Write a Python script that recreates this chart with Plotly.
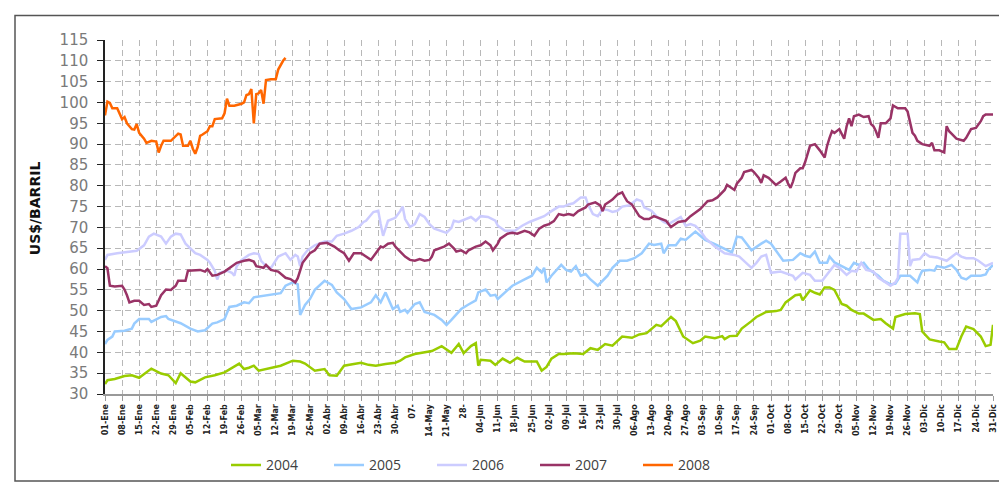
import plotly.graph_objects as go

# ---- data (day of year, US$/barril) ----
week_labels = ["01-Ene","08-Ene","15-Ene","22-Ene","29-Ene","05-Feb","12-Feb","19-Feb","26-Feb",
               "05-Mar","12-Mar","19-Mar","26-Mar","02-Abr","09-Abr","16-Abr","23-Abr","30-Abr",
               "07-","14-May","21-May","28-","04-Jun","11-Jun","18-Jun","25-Jun","02-Jul","09-Jul",
               "16-Jul","23-Jul","30-Jul","06-Ago","13-Ago","20-Ago","27-Ago","03-Sep","10-Sep",
               "17-Sep","24-Sep","01-Oct","08-Oct","15-Oct","22-Oct","29-Oct","05-Nov","12-Nov",
               "19-Nov","26-Nov","03-Dic","10-Dic","17-Dic","24-Dic","31-Dic"]
week_days = [7 * i for i in range(len(week_labels))]

days_2004 = [0,1,4,8,11,14,19,23,26,29,31,35,37,41,45,49,55,57,59,61,63,66,72,77,80,82,86,90,92,95,98,
             102,105,108,111,115,119,121,123,127,131,134,138,142,145,147,150,152,153,154,158,160,163,
             166,169,172,177,179,181,183,186,188,192,196,199,202,205,208,212,216,219,222,226,228,232,
             234,237,241,244,246,250,253,254,256,259,261,265,267,271,275,277,279,283,285,286,289,291,
             293,295,297,299,302,304,306,309,311,315,318,320,323,324,328,332,334,335,338,342,344,346,
             349,351,353,356,359,361,363,364]
price_2004 = [32.4,33.3,33.6,34.3,34.5,33.9,36.1,34.9,34.5,32.6,35.0,33.0,32.8,34.0,34.5,35.2,37.3,36.0,
              36.3,36.8,35.6,36.0,36.8,38.0,37.8,37.3,35.6,36.0,34.5,34.4,36.8,37.2,37.5,37.0,36.8,37.2,
              37.5,38.0,38.8,39.6,40.0,40.3,41.5,39.9,42.0,39.8,41.5,42.2,36.8,38.2,38.0,37.0,38.5,37.5,
              38.7,37.8,37.8,35.6,36.5,38.5,39.6,39.6,39.8,39.6,41.0,40.6,42.0,41.6,43.8,43.5,44.3,44.6,
              46.6,46.3,48.5,47.5,43.8,42.2,42.8,43.8,43.4,43.9,43.2,43.9,44.0,45.7,47.5,48.5,49.7,49.9,
              50.2,52.0,53.7,53.9,52.5,54.9,54.3,53.9,55.6,55.6,55.0,51.6,51.2,50.2,49.3,49.3,47.8,48.0,
              47.0,45.7,48.5,49.2,49.4,49.2,45.0,43.1,42.6,42.4,40.8,40.8,43.8,46.2,45.6,43.8,41.5,41.8,
              46.6]

days_2005 = [0,1,3,4,8,11,12,14,18,19,23,25,26,29,31,35,38,41,44,46,49,51,54,57,59,61,67,72,74,77,79,80,
             82,84,86,90,93,95,98,101,105,109,111,113,115,116,118,120,121,123,124,127,129,131,135,138,
             140,142,144,146,149,152,153,156,158,160,161,165,167,172,175,177,179,180,181,183,187,189,191,
             193,195,197,199,202,204,206,208,211,214,217,220,223,225,228,229,231,234,236,238,242,244,246,
             250,251,255,257,259,261,263,265,269,271,273,276,278,282,285,287,289,291,292,293,296,297,299,
             301,304,305,307,309,311,313,314,317,319,322,324,326,330,332,333,334,335,338,340,341,344,347,
             349,351,353,355,359,361,362,364]
price_2005 = [42.0,43.0,43.8,45.0,45.2,45.7,46.9,48.0,48.0,47.3,48.5,48.7,48.0,47.4,47.0,45.7,45.0,45.3,
              46.9,47.2,48.0,50.9,51.2,52.0,51.8,53.2,53.7,54.2,56.0,56.8,56.3,49.0,51.4,52.8,55.0,57.2,
              56.2,54.4,52.8,50.4,50.8,52.0,53.7,52.0,54.4,53.0,50.4,51.2,49.7,50.2,49.5,51.6,52.0,49.7,
              49.0,47.8,46.6,47.8,49.0,50.4,51.5,52.5,54.4,55.1,53.6,53.8,52.8,55.0,56.0,57.5,58.4,60.3,
              59.2,60.3,56.8,58.4,61.0,59.8,59.4,60.7,58.4,58.8,57.5,56.0,57.2,58.4,60.3,62.0,62.0,62.6,
              63.8,66.1,65.8,66.1,63.8,65.7,65.7,67.3,67.0,69.0,68.0,67.0,66.0,65.7,64.5,64.0,67.8,67.6,
              66.1,64.5,66.1,66.8,66.1,63.8,62.0,62.2,63.8,63.2,62.9,64.2,62.9,61.5,61.5,63.0,61.6,61.0,
              60.3,59.8,61.5,61.0,61.5,60.0,59.6,58.4,57.2,56.3,56.5,58.4,58.4,57.2,56.8,58.4,59.6,59.8,
              59.6,60.7,60.3,61.0,59.8,57.9,57.5,58.4,58.4,58.7,59.8,61.0]

days_2006 = [0,1,5,11,13,16,18,20,23,25,27,29,31,33,37,39,42,43,45,46,47,50,52,53,54,56,59,61,63,64,66,68,
             71,74,76,78,79,80,81,83,86,90,93,95,98,101,104,106,107,110,112,113,114,116,119,121,122,123,
             125,127,129,131,133,135,138,140,142,143,145,148,150,152,154,157,160,161,164,168,170,171,174,
             177,180,183,186,188,190,192,195,197,198,200,202,204,206,208,210,212,215,218,220,221,224,226,
             229,231,234,236,238,240,242,244,246,250,254,258,260,263,265,267,269,271,273,277,281,282,283,
             286,289,291,294,297,299,301,304,306,308,310,312,315,317,320,322,324,325,326,329,330,331,334,
             336,338,341,345,347,349,351,353,356,358,361,364]
price_2006 = [62.2,63.4,63.8,64.2,64.4,65.7,67.8,68.5,67.8,66.1,67.8,68.5,68.3,66.1,63.8,63.4,62.2,61.5,
              59.6,57.5,59.1,59.6,59.1,58.4,60.7,62.2,63.4,63.8,63.6,62.0,60.7,60.2,63.0,63.8,62.2,63.4,
              63.0,60.7,63.0,64.5,65.7,66.6,66.6,68.0,68.5,69.2,70.1,71.3,71.6,73.7,74.0,70.8,68.0,71.6,
              72.3,73.9,75.0,72.0,70.1,70.8,73.2,72.5,70.8,69.7,69.0,68.7,69.9,71.6,71.3,72.0,72.5,71.6,
              72.7,72.5,71.6,70.4,69.2,69.2,70.0,70.4,71.3,72.0,72.7,73.9,75.0,75.0,75.5,75.8,77.2,77.2,
              75.5,73.2,72.7,74.4,74.2,73.7,74.0,75.0,75.3,76.7,76.3,74.8,74.0,72.7,71.3,70.8,71.7,72.5,
              70.4,70.8,70.4,69.2,67.5,65.4,63.8,63.4,63.0,61.5,60.3,61.5,63.0,63.4,59.1,59.4,58.7,58.4,
              57.5,59.1,58.6,57.2,57.2,59.6,61.0,60.3,58.6,59.6,59.4,61.5,59.8,59.4,57.9,56.8,56.0,56.8,
              57.9,68.5,68.5,60.7,62.2,62.4,63.8,63.0,62.8,62.0,63.0,63.8,63.0,62.6,62.6,62.0,60.7,61.5]

days_2007 = [0,1,2,4,7,8,9,10,12,14,16,18,19,21,23,25,27,29,30,33,34,37,39,41,42,44,46,49,51,54,57,59,61,
             62,65,66,68,71,74,76,78,79,81,82,84,86,88,91,94,96,98,100,101,102,105,107,109,111,113,114,
             116,118,119,121,123,125,127,129,131,133,134,135,139,141,143,144,146,148,149,152,154,156,158,
             159,161,162,165,167,169,172,174,176,178,180,182,184,186,188,190,192,194,197,198,201,203,204,
             205,207,208,210,212,213,214,216,217,219,221,223,225,228,230,231,232,235,238,240,242,244,247,
             249,251,254,255,257,258,259,261,262,265,266,268,269,270,272,275,277,279,280,281,282,283,285,
             286,287,288,289,291,292,293,295,296,297,298,299,301,303,304,305,306,307,309,311,313,314,315,
             316,317,318,320,322,323,325,328,329,330,331,332,333,335,338,339,340,342,344,345,346,347,349,
             352,353,355,357,359,360,361,364]
price_2007 = [60.7,60.2,56.0,55.8,56.0,55.1,53.7,52.0,52.4,52.4,51.4,51.6,50.9,51.2,53.7,55.1,55.0,56.0,
              57.2,57.2,59.6,59.8,59.8,59.4,60.0,58.4,58.6,59.4,60.3,61.5,62.0,62.2,61.8,60.7,60.3,61.0,
              59.8,59.4,57.9,57.6,56.8,57.8,61.5,62.2,63.8,64.5,66.1,66.3,65.4,64.5,63.8,62.0,63.0,63.8,
              63.8,63.0,62.2,63.8,65.4,65.2,66.1,66.3,65.4,64.2,63.0,62.2,62.0,62.4,62.0,62.2,63.0,64.5,
              65.4,66.1,65.0,64.2,64.5,63.8,64.5,65.4,65.7,66.6,65.7,64.5,66.1,67.3,68.5,68.7,68.5,69.2,
              68.8,68.0,69.7,70.4,70.8,71.5,73.2,72.9,73.2,72.9,73.9,74.8,75.5,76.0,75.3,73.9,75.5,76.3,
              76.7,77.9,78.4,77.3,76.3,75.5,74.6,72.7,72.0,72.0,72.7,72.0,71.6,70.8,70.1,71.3,71.6,72.7,
              73.5,74.4,76.3,76.5,77.2,79.0,80.2,79.5,79.0,80.5,81.9,83.3,83.8,83.3,81.9,80.7,82.5,81.9,
              80.2,81.0,81.9,80.5,79.5,81.0,83.1,84.2,84.2,85.7,87.7,89.6,90.0,89.3,88.5,86.8,89.6,91.5,
              93.1,92.7,93.6,91.3,94.3,96.2,94.3,96.7,97.1,96.5,96.7,94.8,94.3,93.1,91.5,95.0,95.0,96.2,
              99.3,98.6,98.6,97.8,95.0,92.7,92.0,90.8,90.0,89.6,90.3,88.5,88.5,88.0,94.3,93.1,92.5,91.3,
              90.8,91.5,93.6,93.9,95.5,96.7,97.1,97.1]

days_2008 = [0,1,2,3,5,6,7,8,9,10,11,12,13,14,16,17,19,21,22,23,24,27,28,30,31,32,34,35,36,37,38,39,40,
             42,43,44,45,47,48,49,50,51,53,56,57,58,59,60,61,62,63,64,65,66,68,70,71,73,74]
price_2008 = [96.9,100.2,99.9,98.6,98.6,97.4,96.0,96.5,95.0,94.3,93.6,93.5,94.8,92.7,91.3,90.3,90.8,90.6,
              88.0,89.6,90.8,90.8,91.3,92.5,92.3,89.6,89.6,90.8,88.9,87.7,89.3,92.0,92.3,93.1,94.3,94.3,
              96.0,96.2,96.2,97.4,100.9,99.2,99.2,99.7,100.0,101.8,102.0,103.2,95.0,102.0,102.2,103.0,
              99.7,105.4,105.6,105.6,107.9,110.0,110.7]

series = [
    ("2004", days_2004, price_2004, "#99CC00"),
    ("2005", days_2005, price_2005, "#99CCFF"),
    ("2006", days_2006, price_2006, "#CCCCFF"),
    ("2007", days_2007, price_2007, "#993366"),
    ("2008", days_2008, price_2008, "#FF6600"),
]

fig = go.Figure()
for name, d, p, c in series:
    fig.add_trace(go.Scatter(x=d, y=p, mode="lines", name=name,
                             line=dict(color=c, width=2.5), hoverinfo="skip"))

W, H = 1007, 485
L, R, T, B = 97, 22, 32, 91
pw, ph = W - L - R, H - T - B

def px(xp):
    return (xp - L) / pw

def py(yp):
    return (H - B - yp) / ph

fig.update_layout(
    width=W, height=H,
    margin=dict(l=L, r=R, t=T, b=B),
    paper_bgcolor="white", plot_bgcolor="white",
    showlegend=True,
    legend=dict(orientation="h", x=px(218), xanchor="left", y=py(467), yanchor="middle",
                font=dict(family="Open Sans", size=14, color="#404040"),
                entrywidth=58, itemwidth=30, bgcolor="rgba(0,0,0,0)"),
    xaxis=dict(range=[0, 364], tickmode="array", tickvals=week_days, ticktext=week_labels,
               tickangle=-90, tickfont=dict(family="DejaVu Sans", size=8, color="#222222", weight="bold"),
               showgrid=True, gridcolor="#b8b8b8", gridwidth=1, griddash="6px,4px",
               showline=True, linecolor="#999999", linewidth=2,
               ticks="outside", ticklen=5, tickcolor="#999999", zeroline=False, fixedrange=True),
    yaxis=dict(range=[30, 115], tickmode="array", tickvals=list(range(30, 116, 5)),
               tickfont=dict(family="DejaVu Sans", size=15, color="#7a7a7a"),
               ticklabelstandoff=6,
               showgrid=True, gridcolor="#b8b8b8", gridwidth=1, griddash="6px,4px",
               showline=True, linecolor="#222222", linewidth=1.5,
               ticks="outside", ticklen=6, tickcolor="#222222", zeroline=False, fixedrange=True),
    annotations=[dict(text="<b>US$/BARRIL</b>", xref="paper", yref="paper", x=px(27), y=py(204),
                      textangle=-90, showarrow=False, xanchor="center", yanchor="middle",
                      font=dict(family="DejaVu Sans", size=14, color="#111111"))],
    shapes=[dict(type="rect", xref="paper", yref="paper", x0=px(7), x1=px(1001), y0=py(483), y1=py(7),
                 line=dict(color="#555555", width=1.5), fillcolor="rgba(0,0,0,0)", layer="below")],
)

fig.write_html("out.html")
